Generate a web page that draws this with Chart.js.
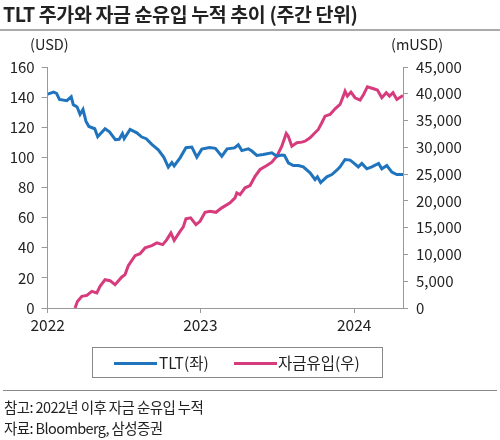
<!DOCTYPE html>
<html>
<head>
<meta charset="utf-8">
<script src="https://cdn.jsdelivr.net/npm/chart.js@4"></script>
<style>
  body { margin:0; width:500px; height:440px; background:#fff; position:relative; overflow:hidden;
         font-family:"Noto Sans CJK KR","Noto Sans",sans-serif; color:#222; }
  #wrap { position:absolute; left:0; top:0; width:500px; height:440px; }
  .title { position:absolute; left:3px; top:-1px; font-size:19.5px; font-weight:bold; letter-spacing:-0.4px; }
  .rule { position:absolute; left:0; width:500px; height:2px; background:#aaa; }
  .unit { position:absolute; top:33px; font-size:14.5px; }
  .legend { position:absolute; left:92px; top:347px; width:291px; height:31px; border:1px solid #888; box-sizing:border-box; font-size:15.5px; }
  .legend span.ln { position:absolute; top:14px; width:43px; height:3px; }
  .legend span.tx { position:absolute; top:3px; }
  .note { position:absolute; left:4px; font-size:14.5px; letter-spacing:-0.6px; }
</style>
</head>
<body>
<div id="wrap"><canvas id="c" width="500" height="440"></canvas></div>
<div class="title">TLT 주가와 자금 순유입 누적 추이 (주간 단위)</div>
<div class="rule" style="top:29px"></div>
<div class="unit" style="left:30px">(USD)</div>
<div class="unit" style="left:391px">(mUSD)</div>
<div class="legend">
  <span class="ln" style="left:21px;background:#1f74bd"></span><span class="tx" style="left:66px">TLT(좌)</span>
  <span class="ln" style="left:141px;background:#d63c7d"></span><span class="tx" style="left:185px">자금유입(우)</span>
</div>
<div class="rule" style="top:390px;left:3px;width:494px;height:1px;background:#888"></div>
<div class="note" style="top:396px">참고: 2022년 이후 자금 순유입 누적</div>
<div class="note" style="top:417px">자료: Bloomberg, 삼성증권</div>
<script>
// x = weeks since start of 2022
const yearTicks = [0, 51.9, 104.2];
const yearLabels = ["2022", "2023", "2024"];

const tltWeeks = [0,2,3,4,6.5,8,8.7,10,11,12,13,14,16,17,19.5,21,23,24.3,25.4,26,28,30.3,32,33.5,35.4,37.6,39.5,41,42.2,43,45,47,49,50.7,52.4,55,57,59.2,61,63.5,64.8,66,68.2,69.4,71.1,73.3,76.2,77.9,79.6,80.5,81.8,83.5,85.2,86.9,89.2,90.9,91.7,92.8,94.9,96.6,98.3,99.4,101.1,102.8,104,105.6,106.8,108.5,110.2,112.5,113.6,115.3,117,118.7,120.8];
const tltPrice = [142,143.4,142.5,138.5,137.6,140.2,135,133.5,128.5,131.8,124,120.5,119,113.7,119,117,111.8,112,115.8,112.4,118.5,116.3,113.5,112.4,108.6,105,100,93.5,96.6,94.3,99.7,106.4,106.8,100.2,105.5,106.6,106,100.8,105.7,106.3,108.4,104.5,105.7,104.2,101.3,101.9,103,100.8,101.6,101.3,96.4,94.6,94.6,93.7,89.7,85.3,87.1,83.3,87.1,88.6,91.5,93.7,98.6,98.2,96.4,93.7,96,92.4,93.7,96,92.4,94.6,90.2,88.6,88.6];

const flowWeeks = [9.3,10.1,11.6,13.3,15,16.7,17.8,19.5,21.2,22.9,25.2,26.3,27.4,29.7,31.4,33.1,35.4,37.1,39.1,40.5,41.9,43,45,46.1,47,48.6,50.4,51.8,53.5,55.2,57.2,59.2,62,63.7,64.3,65.4,67.1,68.8,70.5,72.2,74.5,76.2,77.9,79.6,81.1,81.8,83,84.7,86.4,87.5,89.2,90.3,92,93.2,94.3,96,97.7,99.4,100.5,101.1,101.9,103.1,104.5,106.2,107.4,108.7,110.8,112.1,113.6,115.1,116.2,117.4,118.7,120.8];
const flowCum = [0,1200,2170,2360,3100,2800,4040,5290,5100,4360,5800,6230,7900,9780,10150,11220,11650,12150,11830,12770,14020,12640,14320,15140,16640,16830,15570,16190,17870,18060,17870,18700,19630,20570,21500,21180,22440,22870,24600,25860,26600,27220,28340,30210,32590,32090,30210,30850,30970,31150,31780,32400,33340,34590,35820,36140,37200,38010,39560,40500,39560,40310,39260,38820,39880,41320,40940,40700,39260,40200,39560,40200,38940,39690];

const axisColor = "#999";
const tickFont = {family:"Noto Sans CJK KR", size:15};

new Chart(document.getElementById("c").getContext("2d"), {
  type: "line",
  data: { datasets: [
    {label:"TLT(좌)", data: tltWeeks.map((w,i)=>({x:w, y:tltPrice[i]})), yAxisID:"y",
     borderColor:"#1f74bd", borderWidth:3, pointRadius:0, tension:0, fill:false},
    {label:"자금유입(우)", data: flowWeeks.map((w,i)=>({x:w, y:flowCum[i]})), yAxisID:"y1",
     borderColor:"#d63c7d", borderWidth:3, pointRadius:0, tension:0, fill:false}
  ]},
  options: {
    responsive:false, animation:false,
    layout:{padding:{top:67, left:0, right:0, bottom:0}},
    plugins:{legend:{display:false}, tooltip:{enabled:false}},
    scales:{
      x:{type:"linear", min:0, max:120.8,
        afterBuildTicks: s => { s.ticks = yearTicks.map(v=>({value:v})); },
        afterFit: s => { s.height = 132; },
        ticks:{color:"#222", font:{...tickFont, size:15.5}, padding:3, maxRotation:0,
          callback:(v,i)=>yearLabels[i]},
        grid:{drawOnChartArea:false, tickLength:5, color:axisColor},
        border:{color:axisColor, width:1}},
      y:{position:"left", min:0, max:160,
        afterFit: s => { s.width = 47.7; },
        ticks:{stepSize:20, color:"#222", font:tickFont, padding:7},
        grid:{drawOnChartArea:false, tickLength:6, color:axisColor},
        border:{color:axisColor, width:1}},
      y1:{position:"right", min:0, max:45000,
        afterFit: s => { s.width = 97; },
        ticks:{stepSize:5000, color:"#222", font:tickFont, padding:8,
          callback:v=>v.toLocaleString("en-US")},
        grid:{drawOnChartArea:false, tickLength:5, color:axisColor},
        border:{color:axisColor, width:1}}
    }
  }
});
</script>
</body>
</html>
